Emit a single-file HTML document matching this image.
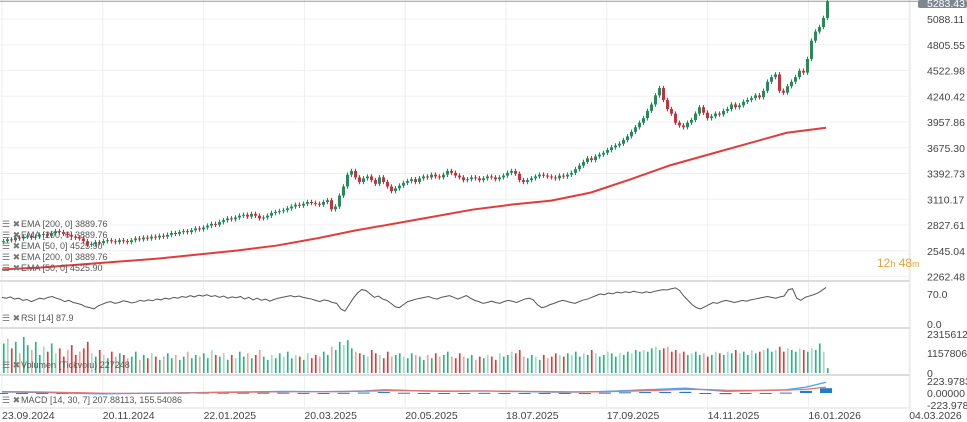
<!DOCTYPE html>
<html><head><meta charset="utf-8"><style>
html,body{margin:0;padding:0;background:#fff;width:967px;height:422px;overflow:hidden;font-family:"Liberation Sans",sans-serif}
svg text{font-family:"Liberation Sans",sans-serif}
</style></head><body>
<svg id="chart" width="967" height="422" xmlns="http://www.w3.org/2000/svg">
<g id="grid"></g><g id="marks"></g><g id="axes"></g><g id="legend"></g>
</svg>
<script>
const closes=[2650,2670,2660,2690,2680,2700,2710,2690,2700,2720,
2730,2710,2740,2760,2750,2730,2720,2700,2690,2680,
2650,2610,2620,2640,2630,2650,2660,2650,2640,2660,
2650,2640,2660,2680,2670,2690,2680,2700,2690,2710,
2700,2720,2740,2730,2750,2760,2750,2770,2790,2780,
2800,2820,2840,2830,2860,2880,2900,2890,2910,2930,
2940,2920,2950,2930,2900,2910,2930,2960,2970,2980,
2990,3010,3030,3050,3040,3060,3080,3070,3060,3050,
3080,3100,3000,3030,3150,3250,3380,3420,3350,3300,
3340,3360,3320,3280,3350,3300,3250,3200,3230,3260,
3290,3310,3330,3300,3340,3360,3350,3380,3360,3350,
3380,3420,3400,3370,3350,3320,3330,3350,3340,3320,
3340,3360,3350,3330,3350,3370,3400,3420,3390,3320,
3300,3320,3340,3360,3380,3370,3360,3350,3340,3370,
3360,3380,3400,3440,3480,3520,3560,3540,3580,3600,
3620,3650,3680,3700,3720,3760,3800,3850,3900,3950,
4000,4080,4150,4250,4330,4200,4100,4050,3950,3920,
3900,3950,3980,4050,4120,4060,4000,4020,4050,4040,
4080,4100,4150,4120,4140,4180,4200,4220,4250,4230,
4300,4400,4450,4480,4300,4280,4350,4400,4450,4520,
4500,4650,4850,4950,5000,5100,5283];
const ema200=[2340,2361,2394,2427,2460,2504,2548,2602,2679,2767,2843,2920,2997,3052,3095,3183,3326,3479,3600,3720,3840,3895];
const volumes=[1800,2100,1500,1900,1200,2200,1700,1400,1900,1100,1600,1300,1800,1200,1500,1000,1400,1700,1100,1300,
1500,1900,1200,1000,1400,1100,900,1300,1000,1200,1100,900,1000,1300,800,1100,900,1200,1000,800,
1000,1200,900,1100,800,1000,1300,900,1100,1000,1200,900,1400,1100,1000,1200,800,1100,900,1300,
1000,1200,900,1100,1400,1000,800,1100,900,1200,1000,1300,900,1100,1000,800,1200,900,1100,1000,
1300,1100,1600,1400,1900,1700,2000,1500,1300,1200,1100,1000,1400,1200,1100,900,1300,1000,1100,1200,
1000,900,1200,1100,1000,800,1100,900,1200,1000,1100,1300,1000,900,1200,1000,900,1100,800,1000,
900,1100,1000,800,1200,1000,1100,1300,1200,1400,1000,900,1100,1000,800,1100,900,1000,1200,1100,
1000,1200,1100,1300,1000,1200,1100,1400,1200,1000,1100,1300,1200,1000,1200,1100,1300,1200,1400,1300,
1400,1300,1500,1600,1400,1500,1600,1300,1400,1200,1300,1100,1200,1300,1100,1200,1000,1100,1300,1200,
1100,1300,1200,1400,1200,1300,1100,1400,1200,1300,1400,1500,1300,1400,1600,1300,1500,1400,1300,1500,
1400,1300,1500,1400,1800,1300,300];
const rsi=[62,60,63,58,60,55,57,52,56,60,58,62,64,60,57,52,55,50,48,45,
40,38,35,42,46,50,52,48,50,54,52,49,51,55,53,56,54,58,56,60,
58,62,60,64,62,66,63,67,65,68,64,66,62,65,60,63,61,64,58,62,
56,60,55,58,53,57,60,62,64,66,63,65,62,60,58,55,52,56,54,50,
48,35,30,45,60,72,80,78,70,62,65,58,55,48,40,38,45,52,55,58,
60,62,64,60,58,62,64,66,62,58,62,66,60,55,52,48,50,53,50,48,
52,55,53,50,54,58,60,56,45,38,40,45,48,52,55,53,50,48,52,56,
58,62,66,70,68,72,70,74,72,75,73,76,74,72,75,73,76,78,80,79,
82,84,78,65,55,45,38,35,40,45,50,48,52,55,53,50,52,55,53,56,
58,60,62,64,62,60,63,65,80,82,60,55,62,65,68,72,78,85];
const macd=[20,15,10,0,-10,-15,-10,-5,0,5,10,15,20,25,30,28,25,30,40,60,50,35,30,35,40,30,25,20,15,20,30,45,60,75,90,60,30,40,50,60,110,200];
const signal=[25,22,18,12,4,-4,-8,-7,-4,0,4,9,14,19,24,26,26,27,32,42,45,41,37,36,37,35,31,27,22,21,24,32,42,55,68,65,52,48,49,53,70,110];
const priceTicks=["5088.11","4805.55","4522.98","4240.42","3957.86","3675.30","3392.73","3110.17","2827.61","2545.04","2262.48"];
const dateLabels=["23.09.2024","20.11.2024","22.01.2025","20.03.2025","20.05.2025","18.07.2025","17.09.2025","14.11.2025","16.01.2026","04.03.2026"];

const NS="http://www.w3.org/2000/svg";
function mk(tag,attrs,parent,text){const e=document.createElementNS(NS,tag);for(const k in attrs)e.setAttribute(k,attrs[k]);if(text!==undefined)e.textContent=text;parent.appendChild(e);return e;}
const G=document.getElementById('grid'),M=document.getElementById('marks'),A=document.getElementById('axes'),L=document.getElementById('legend');
const PR=910;
const yP=p=>19+(5088.11-p)/282.56*25.75;
const xC=i=>2+i*4;
const xF=(i,n)=>2+i*(824/(n-1));
const yR=v=>324-v*0.43;
const yV=v=>373-v/2315.612*38;
const yM=v=>393-v/223.978*12;

priceTicks.forEach((t,i)=>{const y=yP(parseFloat(t));
const g=mk('line',{x1:0,x2:PR,y1:y,y2:y,stroke:'#f0f0f0','stroke-width':1},G);

const tx=mk('text',{x:927,y:y+4,'font-size':10.5,fill:'#444'},A,t);
});
dateLabels.forEach((d,i)=>{const x=2+i*100.8;
const g=mk('line',{x1:x,x2:x,y1:0,y2:410,stroke:'#eeeeee','stroke-width':1},G);

const tx=mk('text',{x:x,y:419,'font-size':10.5,fill:'#444'},A,d);
});
[[281,'#ddd'],[328,'#ddd'],[375,'#ddd'],[408,'#eee']].forEach(([y,c])=>{const l=mk('line',{x1:0,x2:PR,y1:y,y2:y,stroke:c,'stroke-width':2},G);
});
const vb=mk('line',{x1:PR,x2:PR,y1:0,y2:410,stroke:'#e6e6e6'},G);

[[298,'70.0'],[328,'0.0'],[338,'2315612'],[357,'1157806'],[377,'0'],[385,'223.9783'],[397,'0.00000'],[409,'-223.978']].forEach(([y,t])=>{
const tx=mk('text',{x:927,y:y,'font-size':10.5,fill:'#444'},A,t);
});

const cl=mk('line',{x1:0,x2:920,y1:yP(5283.43),y2:yP(5283.43),stroke:'#999','stroke-width':1},M);

const pb=mk('rect',{x:918,y:0,width:49,height:8,fill:'#7d8790',rx:2},A);

const pt=mk('text',{x:927,y:7,'font-size':10.5,fill:'#fff'},A,'5283.43');


closes.forEach((c,i)=>{const o=i?closes[i-1]:c-10;const up=c>=o;const col=up?'#1f8f5a':'#d62a36';
const hi=Math.max(o,c)+25,lo=Math.min(o,c)-25;
const w=mk('line',{x1:xC(i)+1.5,x2:xC(i)+1.5,y1:yP(hi),y2:yP(lo),stroke:col,'stroke-width':1},M);

const b=mk('rect',{x:xC(i),y:yP(Math.max(o,c)),width:3,height:Math.max(1,Math.abs(yP(o)-yP(c))),fill:col},M);

const v=volumes[i];const pale=(i%3===1);
const vr=mk('rect',{x:xC(i)+1,y:yV(v),width:1.6,height:373-yV(v),fill:up?(pale?'#9fdcc0':'#2bb57c'):(pale?'#f2a0a0':'#e03a3a')},M);
});

const ep=mk('polyline',{points:ema200.map((v,i)=>xF(i,ema200.length)+','+yP(v)).join(' '),fill:'none',stroke:'#e23b3b','stroke-width':2,'stroke-linejoin':'round'},M);

const rp=mk('polyline',{points:rsi.map((v,i)=>xF(i,rsi.length)+','+yR(v)).join(' '),fill:'none',stroke:'#555','stroke-width':1},M);

macd.forEach((v,i)=>{const h=v-signal[i];const x=xF(i,macd.length);
const r=mk('rect',{x:x-6,y:Math.min(yM(h),393),width:12,height:Math.max(1,Math.abs(yM(h)-393)),fill:h>=0?'#1e7fc8':'#e23b3b'},M);
});
const mp=mk('polyline',{points:macd.map((v,i)=>xF(i,macd.length)+','+yM(v)).join(' '),fill:'none',stroke:'#42a5f5','stroke-width':1.3},M);

const sp=mk('polyline',{points:signal.map((v,i)=>xF(i,signal.length)+','+yM(v)).join(' '),fill:'none',stroke:'#e57373','stroke-width':1.3},M);


[[227,'EMA [200, 0] 3889.76'],[238,'EMA [200, 0] 3889.76'],[249,'EMA [50, 0] 4525.90'],[260,'EMA [200, 0] 3889.76'],[271,'EMA [50, 0] 4525.90'],[321,'RSI [14] 87.9'],[368,'Volumen (Tickvolu) 227248'],[403,'MACD [14, 30, 7] 207.88113, 155.54086']].forEach(([y,t])=>{
const ic=mk('text',{x:2,y:y,'font-size':9,fill:'#777'},L,'☰ ✖');

const tx=mk('text',{x:21,y:y,'font-size':9,fill:'#555'},L,t);
});
const tm=mk('text',{x:877,y:267,'font-size':12,fill:'#f0a030'},A);

tm.innerHTML='12<tspan font-size="9">h</tspan> 48<tspan font-size="9">m</tspan>';
</script>
</body></html>
